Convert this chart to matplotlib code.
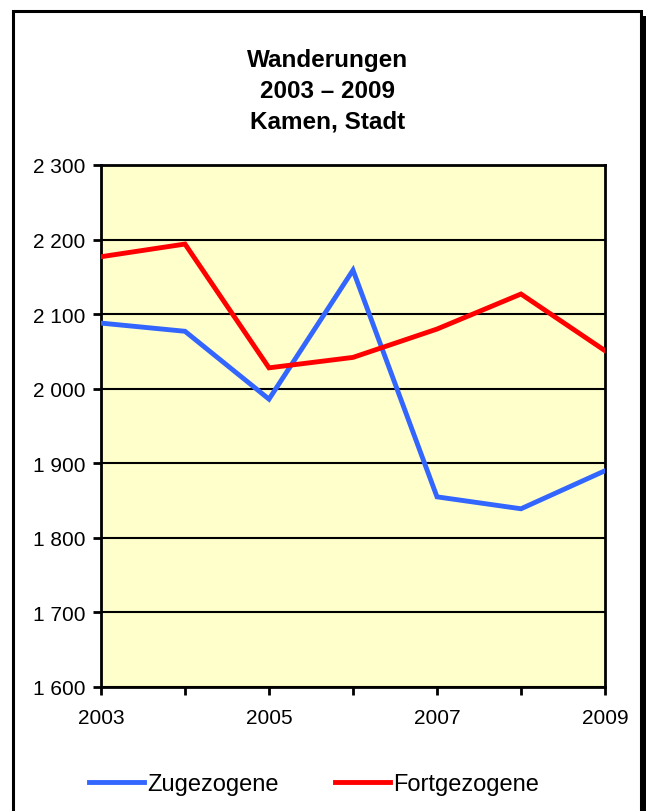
import matplotlib
matplotlib.use("Agg")
import matplotlib.pyplot as plt
from matplotlib.patches import Rectangle
from matplotlib.ticker import FuncFormatter, MultipleLocator

plt.rcParams['font.family'] = ['Liberation Sans', 'DejaVu Sans']

# Daten
jahre = [2003, 2004, 2005, 2006, 2007, 2008, 2009]
zugezogene = [2088, 2077, 1986, 2159, 1855, 1839, 1890]
fortgezogene = [2177, 2194, 2028, 2042, 2080, 2127, 2051]
x_beschriftung = [2003, 2005, 2007, 2009]

W, H = 646, 812
fig = plt.figure(figsize=(W / 100, H / 100), dpi=100)
fig.patch.set_facecolor('white')

# Rahmen mit Schatten
fig.patches.append(Rectangle((641 / W, -0.05), 10 / W, 1 - 17 / H + 0.05,
                             transform=fig.transFigure, facecolor='black',
                             edgecolor='none', zorder=0))
fig.patches.append(Rectangle((13.5 / W, -0.05), (641 - 13.5) / W, 1 - 12 / H + 0.05,
                             transform=fig.transFigure, facecolor='white',
                             edgecolor='black', linewidth=2.2, zorder=1))

ax = fig.add_axes([101 / W, 1 - 688 / H, (605 - 101) / W, (688 - 166) / H])
ax.set_zorder(3)
ax.set_facecolor('#FFFFCC')

ax.plot(jahre, zugezogene, color='#3366FF', linewidth=3.5, label='Zugezogene',
        solid_joinstyle='miter', zorder=3)
ax.plot(jahre, fortgezogene, color='#FF0000', linewidth=3.5, label='Fortgezogene',
        solid_joinstyle='miter', zorder=3)

ax.set_xlim(2003, 2009)
ax.set_ylim(1600, 2300)
ax.yaxis.set_major_locator(MultipleLocator(100))
ax.yaxis.set_major_formatter(FuncFormatter(lambda v, p: f"{int(v):,}".replace(',', ' ')))
ax.set_xticks(jahre)
ax.set_xticklabels([str(j) if j in x_beschriftung else '' for j in jahre])
ax.grid(axis='y', color='black', linewidth=1.5)
ax.set_axisbelow(True)
for s in ax.spines.values():
    s.set_linewidth(2)
ax.tick_params(axis='both', direction='out', length=6, width=2, labelsize=15,
               colors='black')
ax.tick_params(axis='y', pad=5)
ax.tick_params(axis='x', pad=9)

tx = 327.5 / W
fig.text(tx, 1 - 60 / H, 'Wanderungen', ha='center', va='center',
         fontsize=17.5, fontweight='bold', zorder=4)
fig.text(tx, 1 - 91 / H, '2003 – 2009', ha='center', va='center',
         fontsize=17.5, fontweight='bold', zorder=4)
fig.text(tx, 1 - 122 / H, 'Kamen, Stadt', ha='center', va='center',
         fontsize=17.5, fontweight='bold', zorder=4)

leg = fig.legend(loc='center', bbox_to_anchor=(314 / W, 1 - 785 / H), ncol=2,
                 frameon=False, fontsize=17, handlelength=2.35, handletextpad=0.15,
                 columnspacing=2.35)
leg.set_zorder(4)

fig.savefig('out.png', dpi=100)
